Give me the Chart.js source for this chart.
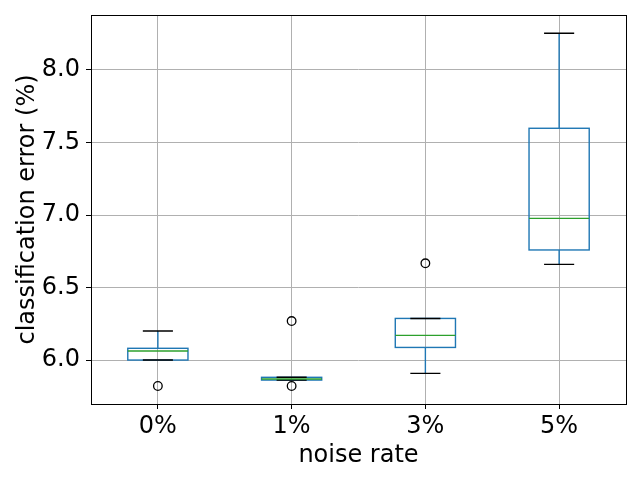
<!DOCTYPE html>
<html>
<head>
<meta charset="utf-8">
<script src="https://cdn.jsdelivr.net/npm/chart.js@4/dist/chart.umd.min.js"></script>
<style>
html,body{margin:0;padding:0;background:#fff;}
#wrap{width:640px;height:480px;}
</style>
</head>
<body>
<div id="wrap"><canvas id="c" width="640" height="480"></canvas></div>
<script>
const categories = ['0%', '1%', '3%', '5%'];
const whiskerLow = [6.0, 5.862, 5.908, 6.660];
const q1 = [6.0, 5.862, 6.087, 6.759];
const medians = [6.062, 5.869, 6.170, 6.977];
const q3 = [6.081, 5.881, 6.287, 7.598];
const whiskerHigh = [6.200, 5.881, 6.287, 8.253];
const outliers = [[5.821], [6.269, 5.821], [6.667], []];
const yTicks = [6.0, 6.5, 7.0, 7.5, 8.0];

const outlierPoints = [];
outliers.forEach((arr, i) => arr.forEach(v => outlierPoints.push({x: i + 1, y: v})));

const FONT = 'DejaVu Sans';
const FS = 24;
const BOX_W = 0.45, CAP_W = 0.225;

const boxPlugin = {
  id: 'boxes',
  beforeDatasetsDraw(chart) {
    const {ctx, scales: {x, y}} = chart;
    ctx.save();
    ctx.lineWidth = 1.4;
    ctx.lineCap = 'butt';
    for (let i = 0; i < categories.length; i++) {
      const pos = i + 1;
      const cx = x.getPixelForValue(pos);
      const bl = x.getPixelForValue(pos - BOX_W / 2), br = x.getPixelForValue(pos + BOX_W / 2);
      const cl = x.getPixelForValue(pos - CAP_W / 2), cr = x.getPixelForValue(pos + CAP_W / 2);
      const yq1 = y.getPixelForValue(q1[i]), yq3 = y.getPixelForValue(q3[i]);
      const ylo = y.getPixelForValue(whiskerLow[i]), yhi = y.getPixelForValue(whiskerHigh[i]);
      const ym = y.getPixelForValue(medians[i]);
      ctx.strokeStyle = '#1f77b4';
      ctx.beginPath();
      ctx.moveTo(cx, yq1); ctx.lineTo(cx, ylo);
      ctx.moveTo(cx, yq3); ctx.lineTo(cx, yhi);
      ctx.stroke();
      ctx.strokeRect(bl, yq3, br - bl, yq1 - yq3);
      ctx.strokeStyle = '#000000';
      ctx.beginPath();
      ctx.moveTo(cl, ylo); ctx.lineTo(cr, ylo);
      ctx.moveTo(cl, yhi); ctx.lineTo(cr, yhi);
      ctx.stroke();
      ctx.strokeStyle = '#2ca02c';
      ctx.beginPath();
      ctx.moveTo(bl, ym); ctx.lineTo(br, ym);
      ctx.stroke();
    }
    ctx.restore();
  },
  afterDraw(chart) {
    const {ctx, chartArea: a} = chart;
    ctx.save();
    ctx.strokeStyle = '#000';
    ctx.lineWidth = 1;
    ctx.strokeRect(Math.round(a.left) + 0.5, Math.round(a.top) + 0.5, Math.round(a.right - a.left), Math.round(a.bottom - a.top));
    ctx.restore();
  }
};

new Chart(document.getElementById('c'), {
  type: 'scatter',
  data: {
    datasets: [{
      data: outlierPoints,
      pointStyle: 'circle',
      pointRadius: 4.3,
      pointBorderWidth: 1.3,
      pointBorderColor: '#000',
      pointBackgroundColor: 'rgba(0,0,0,0)',
      showLine: false
    }]
  },
  options: {
    responsive: false,
    animation: false,
    devicePixelRatio: 1,
    layout: {padding: {left: 13, right: 14, top: 15, bottom: 0}},
    plugins: {legend: {display: false}, tooltip: {enabled: false}},
    scales: {
      x: {
        type: 'linear',
        min: 0.5, max: 4.5,
        afterBuildTicks: s => { s.ticks = categories.map((c, i) => ({value: i + 1})); },
        afterFit: s => { s.height = 76; s.paddingLeft = 0; s.paddingRight = 0; },
        ticks: {
          autoSkip: false, maxRotation: 0,
          callback: (v) => categories[Math.round(v) - 1],
          color: '#000', font: {family: FONT, size: FS}, padding: 3
        },
        grid: {color: '#b0b0b0', lineWidth: 1, tickColor: '#000', tickLength: 5, drawTicks: true},
        border: {display: false},
        title: {display: true, text: 'noise rate', color: '#000', font: {family: FONT, size: FS}, padding: {top: 0, bottom: 10}}
      },
      y: {
        type: 'linear',
        min: 5.697, max: 8.379,
        afterBuildTicks: s => { s.ticks = yTicks.map(v => ({value: v})); },
        afterFit: s => { s.width = 78; s.paddingTop = 0; s.paddingBottom = 0; },
        ticks: {
          callback: v => v.toFixed(1),
          color: '#000', font: {family: FONT, size: FS}, padding: 6
        },
        grid: {color: '#b0b0b0', lineWidth: 1, tickColor: '#000', tickLength: 5},
        border: {display: false},
        title: {display: true, text: 'classification error (%)', color: '#000', font: {family: FONT, size: FS}, padding: {top: 0, bottom: 0}}
      }
    }
  },
  plugins: [boxPlugin]
});
</script>
</body>
</html>
